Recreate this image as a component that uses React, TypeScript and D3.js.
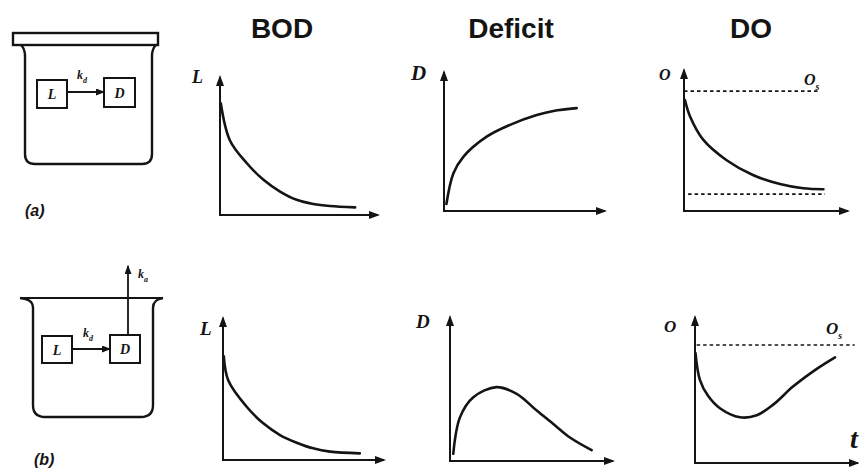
import React from "react";
import * as d3 from "d3";

// ==========================
// Data (time units 0-10, value units 0-10)
// ==========================
const titles = ["BOD", "Deficit", "DO"];
const caseLabels = ["(a)", "(b)"];

const bodTopT = [0.05, 0.63, 1.7, 2.75, 3.8, 4.85, 5.9, 6.95, 8.55];
const bodTopL = [8.1, 5.4, 3.75, 2.55, 1.7, 1.1, 0.8, 0.65, 0.55];

const defTopT = [0.15, 0.58, 1.2, 2.65, 4.1, 5.76, 6.8, 8.24];
const defTopD = [0.5, 2.7, 3.9, 5.35, 6.2, 6.9, 7.2, 7.4];

const doTopT = [0.06, 0.37, 1.18, 2.6, 4.2, 5.85, 7.27, 8.5];
const doTopO = [7.87, 6.7, 5.04, 3.6, 2.55, 1.91, 1.61, 1.54];
const doTopSat = 8.5;
const doTopFloor = 1.2;

const bodBotT = [0.05, 0.33, 1.47, 2.5, 3.54, 4.58, 5.6, 6.65, 8.5];
const bodBotL = [7.3, 5.6, 3.75, 2.58, 1.76, 1.22, 0.82, 0.59, 0.47];

const defBotT = [0.2, 0.61, 1.43, 2.86, 4.09, 5.32, 6.34, 7.36, 8.69];
const defBotD = [0.5, 3.03, 4.43, 5.13, 4.66, 3.5, 2.57, 1.63, 0.75];

const doBotT = [0.03, 0.3, 0.8, 1.53, 2.76, 3.79, 4.8, 6.03, 7.47, 8.59];
const doBotO = [7.53, 5.7, 4.6, 3.75, 3.13, 3.27, 4.0, 5.25, 6.45, 7.24];
const doBotSat = 8.08;

const INK = "#141414";
const SERIF = "'Liberation Serif', 'DejaVu Serif', serif";
const SANS = "'Liberation Sans', Arial, sans-serif";

// panel frames: axis origin, end of x arrow, top of y arrow
const panels = [
    { key: "bodA", ax: 220, xEnd: 378, yBase: 215, yTop: 77, t: bodTopT, v: bodTopL },
    { key: "defA", ax: 444, xEnd: 605, yBase: 211, yTop: 72, t: defTopT, v: defTopD },
    { key: "doA", ax: 684, xEnd: 848, yBase: 211, yTop: 70, t: doTopT, v: doTopO,
        dashed: [{ y: doTopSat, t0: 0, t1: 8.3 }, { y: doTopFloor, t0: 0.25, t1: 8.6 }] },
    { key: "bodB", ax: 223, xEnd: 384, yBase: 460, yTop: 318, t: bodBotT, v: bodBotL },
    { key: "defB", ax: 450, xEnd: 613, yBase: 461, yTop: 317, t: defBotT, v: defBotD },
    { key: "doB", ax: 695, xEnd: 858, yBase: 463, yTop: 317, t: doBotT, v: doBotO,
        dashed: [{ y: doBotSat, t0: 0.1, t1: 9.8 }] }
];

function Panel({ p }) {
    const x = d3.scaleLinear().domain([0, 10]).range([p.ax, p.xEnd]);
    const y = d3.scaleLinear().domain([0, 10]).range([p.yBase, p.yTop]);
    const pts = p.t.map((t, i) => [t, p.v[i]]);
    const line = d3.line()
        .x(d => x(d[0]))
        .y(d => y(d[1]))
        .curve(d3.curveCatmullRom.alpha(0.5));

    return (
        <g>
            <line x1={x(0)} y1={y(0)} x2={x(0)} y2={y(10)} stroke={INK} strokeWidth={2}
                markerEnd="url(#axisArrow)" />
            <line x1={x(0) - 1} y1={y(0)} x2={x(10)} y2={y(0)} stroke={INK} strokeWidth={2}
                markerEnd="url(#axisArrow)" />
            {(p.dashed || []).map((d, i) => (
                <line key={i} x1={x(d.t0)} x2={x(d.t1)} y1={y(d.y)} y2={y(d.y)}
                    stroke={INK} strokeWidth={1.6} strokeDasharray="3.5,3" />
            ))}
            <path d={line(pts)} fill="none" stroke={INK} strokeWidth={2.6} strokeLinecap="round" />
        </g>
    );
}

function Sub({ x, y, main, sub, size, subSize }) {
    return (
        <text x={x} y={y} fontFamily={SERIF} fontWeight="bold" fontStyle="italic"
            fontSize={size} fill={INK}>
            {main}
            <tspan dy={size * 0.3} fontSize={subSize}>{sub}</tspan>
        </text>
    );
}

function Box({ x, y, w, h, label }) {
    return (
        <g>
            <rect x={x} y={y} width={w} height={h} fill="#fff" stroke={INK} strokeWidth={2} />
            <text x={x + w / 2} y={y + h / 2 + 5} textAnchor="middle" fontFamily={SERIF}
                fontWeight="bold" fontStyle="italic" fontSize={14} fill={INK}>{label}</text>
        </g>
    );
}

export default function App() {
    return (
        <svg width={859} height={472} style={{ position: "fixed", left: 0, top: 0, background: "#fff" }}>
            <defs>
                <marker id="axisArrow" markerUnits="userSpaceOnUse" markerWidth={11} markerHeight={8}
                    refX={9} refY={4} orient="auto">
                    <path d="M0,0 L11,4 L0,8 Z" fill={INK} />
                </marker>
                <marker id="smallArrow" markerUnits="userSpaceOnUse" markerWidth={9} markerHeight={7}
                    refX={8} refY={3.5} orient="auto">
                    <path d="M0,0 L9,3.5 L0,7 Z" fill={INK} />
                </marker>
            </defs>

            {/* column titles */}
            {titles.map((t, i) => (
                <text key={t} x={[282, 511, 751][i]} y={38} textAnchor="middle" fontFamily={SANS}
                    fontWeight="bold" fontSize={28} fill={INK}>{t}</text>
            ))}

            {/* beaker (a): closed vessel */}
            <rect x={13} y={33} width={145} height={12} fill="#fff" stroke={INK} strokeWidth={2.4} />
            <path d="M21,45 C24,48 25,51 25,56 L25,154 Q25,164 35,164 L142,164 Q152,164 152,154 L152,56 C152,51 153,48 156,45"
                fill="none" stroke={INK} strokeWidth={2.4} />
            <Box x={37} y={80} w={30} h={28} label="L" />
            <Box x={104} y={78} w={31} h={29} label="D" />
            <line x1={67} y1={92} x2={104} y2={92} stroke={INK} strokeWidth={1.8} markerEnd="url(#smallArrow)" />
            <Sub x={77} y={79} main="k" sub="d" size={12} subSize={8} />

            {/* beaker (b): open vessel with reaeration */}
            <line x1={20} y1={298} x2={163} y2={298} stroke={INK} strokeWidth={2.2} />
            <path d="M20,298 C28,299 33,301 33,308 L33,405 Q33,417 45,417 L141,417 Q153,417 153,405 L153,308 C153,301 157,299 163,298"
                fill="none" stroke={INK} strokeWidth={2.4} />
            <Box x={42} y={336} w={30} h={27} label="L" />
            <Box x={110} y={335} w={30} h={28} label="D" />
            <line x1={72} y1={349} x2={110} y2={349} stroke={INK} strokeWidth={1.8} markerEnd="url(#smallArrow)" />
            <Sub x={83} y={337} main="k" sub="d" size={12} subSize={8} />
            <line x1={128} y1={335} x2={128} y2={266} stroke={INK} strokeWidth={1.8} markerEnd="url(#smallArrow)" />
            <Sub x={138} y={278} main="k" sub="a" size={12} subSize={8} />

            {/* case labels */}
            {caseLabels.map((c, i) => (
                <text key={c} x={[25, 34][i]} y={[216, 465][i]} fontFamily={SANS} fontWeight="bold"
                    fontStyle="italic" fontSize={16} fill={INK}>{c}</text>
            ))}

            {panels.map(p => <Panel key={p.key} p={p} />)}

            {/* axis labels */}
            <text x={192} y={83} fontFamily={SERIF} fontWeight="bold" fontStyle="italic" fontSize={18} fill={INK}>L</text>
            <text x={200} y={335} fontFamily={SERIF} fontWeight="bold" fontStyle="italic" fontSize={19} fill={INK}>L</text>
            <text x={411} y={80} fontFamily={SERIF} fontWeight="bold" fontStyle="italic" fontSize={21} fill={INK}>D</text>
            <text x={416} y={328} fontFamily={SERIF} fontWeight="bold" fontStyle="italic" fontSize={19} fill={INK}>D</text>
            <text x={659} y={80} fontFamily={SERIF} fontWeight="bold" fontStyle="italic" fontSize={16} fill={INK}>O</text>
            <text x={664} y={332} fontFamily={SERIF} fontWeight="bold" fontStyle="italic" fontSize={17} fill={INK}>O</text>
            <Sub x={804} y={85} main="O" sub="s" size={16} subSize={10} />
            <Sub x={826} y={334} main="O" sub="s" size={17} subSize={10} />
            <text x={850} y={448} fontFamily={SERIF} fontWeight="bold" fontStyle="italic" fontSize={28} fill={INK}>t</text>
        </svg>
    );
}
